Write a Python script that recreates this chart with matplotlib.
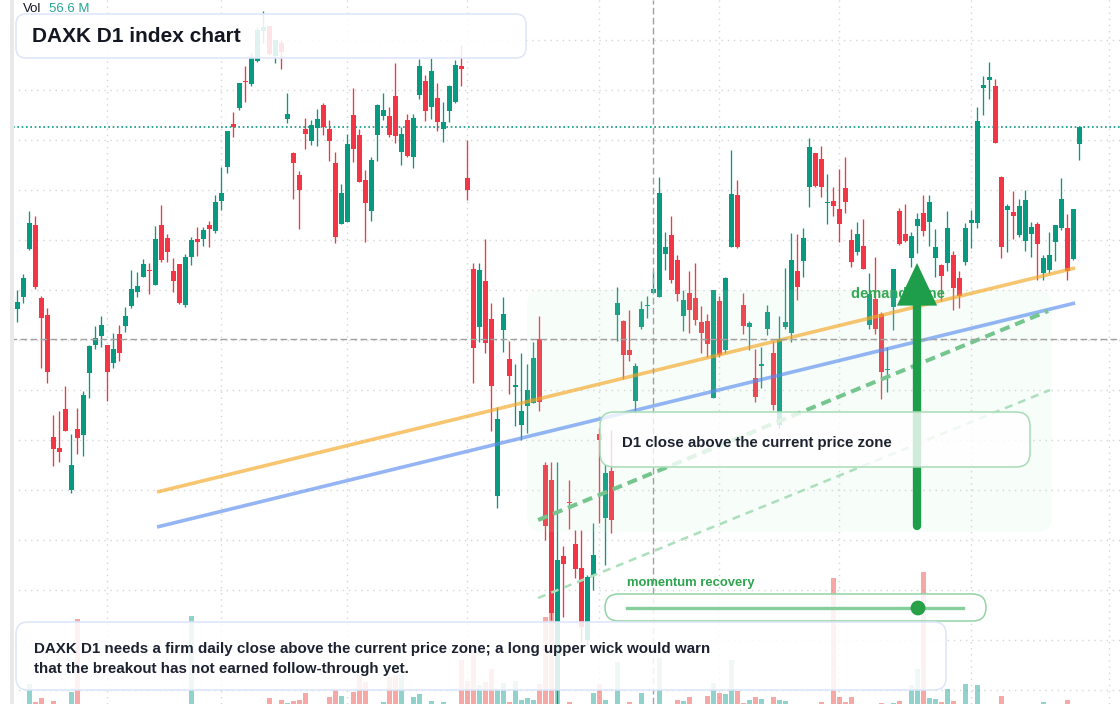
import numpy as np
import matplotlib
matplotlib.use("Agg")
import matplotlib.pyplot as plt
from matplotlib.patches import FancyBboxPatch, Rectangle, Polygon, Circle
from matplotlib.transforms import Affine2D
from matplotlib.colors import to_rgba

plt.rcParams['font.family'] = ['Liberation Sans', 'DejaVu Sans']

# ---- DAXK daily candles (index points), oldest first ----
opens = [24155, 24215, 24455, 24575, 24210, 24125, 23515, 23460, 23655, 23250,
         23555, 23525, 23835, 23975, 24020, 23975, 23885, 24030, 24070, 24170,
         24240, 24315, 24350, 24275, 24575, 24510, 24345, 24380, 24175, 24415,
         24505, 24505, 24575, 24545, 24695, 24865, 25080, 25160, 25295, 25280,
         25395, 25545, 25570, 25420, 25485, 25105, 24935, 24825, 25055, 24995,
         25060, 25175, 25055, 24885, 24580, 24590, 25125, 25025, 24800, 24645,
         25025, 25120, 25120, 25220, 24940, 25100, 24915, 25225, 25295, 25165,
         25210, 25055, 25145, 25190, 25370, 24810, 24355, 24065, 24295, 24105,
         23220, 24050, 23905, 23765, 23575, 23670, 23685, 24005, 23375, 23300,
         22245, 22920, 23190, 22980, 22860, 22500, 22825, 23530, 23110, 23345,
         24125, 24095, 23950, 23695, 24065, 24170, 24235, 24215, 24430, 24525,
         24400, 24120, 24235, 24210, 24090, 24095, 23710, 24195, 23950, 24465,
         24725, 24175, 24065, 23810, 23870, 24055, 23935, 23575, 24065, 24035,
         24345, 24395, 24765, 24935, 24905, 24685, 24695, 24655, 24760, 24500,
         24440, 24470, 24075, 24205, 24130, 23850, 24165, 24645, 24530, 24410,
         24570, 24635, 24590, 24410, 24375, 24385, 24425, 24310, 24390, 24585,
         24585, 25260, 25300, 25270, 24815, 24650, 24640, 24525, 24495, 24530,
         24580, 24335, 24350, 24490, 24560, 24560, 24405, 24980]
highs = [24250, 24330, 24645, 24620, 24220, 24160, 23625, 23645, 23770, 23530,
         23660, 23745, 23975, 24070, 24120, 23975, 24035, 24075, 24165, 24350,
         24340, 24405, 24385, 24570, 24675, 24530, 24410, 24380, 24430, 24515,
         24565, 24565, 24595, 24725, 24865, 25045, 25140, 25285, 25370, 25435,
         25565, 25645, 25570, 25500, 25500, 25235, 24940, 24845, 25110, 25100,
         25155, 25185, 25100, 24940, 24780, 25030, 25260, 25055, 24850, 24915,
         25180, 25235, 25165, 25385, 25065, 25130, 25130, 25405, 25325, 25410,
         25285, 25190, 25275, 25400, 25475, 25000, 24385, 24385, 24505, 24185,
         23665, 24215, 23995, 23880, 23935, 23880, 23990, 24120, 23390, 23390,
         23390, 22970, 23300, 23050, 23050, 22825, 23085, 23560, 23380, 23550,
         24265, 24100, 24150, 23885, 24195, 24220, 24340, 24815, 24540, 24620,
         24425, 24250, 24345, 24385, 24170, 24130, 24250, 24220, 24315, 24950,
         24800, 24235, 24095, 23955, 23965, 24175, 23995, 24120, 24360, 24535,
         24530, 24560, 25010, 24935, 24970, 24830, 24765, 24855, 24915, 24555,
         24590, 24605, 24335, 24415, 24140, 23965, 24355, 24660, 24680, 24540,
         24635, 24725, 24725, 24555, 24380, 24645, 24445, 24345, 24585, 24650,
         25165, 25320, 25390, 25305, 24820, 24680, 24745, 24705, 24750, 24590,
         24590, 24425, 24540, 24575, 24810, 24630, 24655, 25065]
lows = [24090, 24185, 24450, 24255, 23860, 23785, 23370, 23390, 23545, 23235,
        23430, 23420, 23710, 23955, 23965, 23695, 23860, 23895, 24040, 24160,
        24215, 24315, 24230, 24275, 24390, 24390, 24240, 24180, 24165, 24375,
        24420, 24470, 24465, 24535, 24650, 24835, 25015, 25150, 25190, 25270,
        25390, 25485, 25425, 25385, 25355, 25085, 24705, 24555, 24955, 24975,
        24970, 25025, 24895, 24485, 24580, 24590, 24890, 24790, 24490, 24595,
        24895, 25100, 25015, 24985, 24875, 24915, 24860, 25205, 25095, 25105,
        25045, 24990, 25090, 25185, 25270, 24700, 23785, 23990, 23935, 23545,
        23160, 23940, 23730, 23570, 23500, 23535, 23685, 23645, 23000, 22600,
        22170, 22615, 23055, 22810, 22490, 22475, 22750, 23085, 22875, 23035,
        23995, 23805, 23895, 23635, 24055, 24110, 24235, 24215, 24350, 24285,
        24195, 24045, 24035, 24075, 23935, 23915, 23710, 23915, 23935, 24465,
        24460, 24030, 23950, 23690, 23760, 24025, 23650, 23560, 24055, 23990,
        24200, 24315, 24665, 24765, 24715, 24580, 24620, 24490, 24635, 24365,
        24425, 24355, 24055, 24030, 23705, 23740, 24050, 24475, 24490, 24365,
        24435, 24520, 24470, 24315, 24195, 24345, 24150, 24160, 24375, 24460,
        24560, 25125, 25205, 24985, 24410, 24440, 24505, 24515, 24445, 24415,
        24300, 24300, 24335, 24395, 24550, 24300, 24400, 24900]
closes = [24190, 24310, 24585, 24265, 24110, 23840, 23455, 23440, 23545, 23375,
          23510, 23725, 23970, 24010, 24075, 23840, 23955, 23935, 24120, 24255,
          24270, 24380, 24345, 24505, 24400, 24440, 24295, 24185, 24415, 24500,
          24490, 24550, 24555, 24690, 24735, 25045, 25065, 25285, 25290, 25415,
          25550, 25565, 25430, 25500, 25440, 25130, 24885, 24750, 25030, 25075,
          25105, 25065, 24995, 24515, 24735, 24980, 24955, 24790, 24685, 24900,
          25175, 25150, 25025, 25020, 25030, 24920, 25110, 25370, 25145, 25345,
          25090, 25090, 25270, 25375, 25355, 24750, 23960, 24350, 23985, 23770,
          23605, 24130, 23820, 23775, 23645, 23750, 23910, 23690, 23070, 22635,
          22900, 22880, 23185, 22855, 22565, 22815, 22925, 23500, 23335, 23100,
          24185, 23925, 23925, 23870, 24155, 24175, 24255, 24735, 24465, 24300,
          24230, 24200, 24150, 24100, 24035, 23980, 24250, 23925, 24310, 24730,
          24465, 24070, 24085, 23715, 23880, 24140, 23675, 24005, 24090, 24400,
          24265, 24510, 24965, 24770, 24765, 24690, 24670, 24580, 24690, 24390,
          24530, 24355, 24230, 24055, 23840, 23855, 24355, 24480, 24495, 24520,
          24605, 24545, 24690, 24465, 24320, 24560, 24260, 24220, 24560, 24600,
          25095, 25275, 25315, 24985, 24465, 24670, 24620, 24670, 24700, 24565,
          24480, 24410, 24425, 24575, 24705, 24345, 24655, 25065]
# volume, millions
volumes = [44, 51, 72, 58.5, 61.5, 49, 59.3, 41, 53, 66,
           120.8, 47, 52, 38, 45, 50, 43, 36, 48, 55,
           40, 46, 39, 54, 50, 42, 47, 53, 49, 123,
           41, 37, 45, 52, 48, 55, 43, 50, 39, 46,
           54, 44, 61.5, 51, 60, 57.8, 59.3, 60, 65.3, 47,
           53, 49, 62.3, 68.3, 63, 55, 66, 78.8, 73.5, 52,
           48, 58.5, 77.3, 78.8, 78.8, 50, 62.3, 64.5, 54, 59.3,
           46, 58.5, 51, 55, 90, 74.3, 97.5, 71.3, 73.5, 83.3,
           67.5, 72.8, 58.5, 74.3, 60, 61.5, 60, 72, 122, 125.5,
           67.5, 54, 58.7, 52, 55, 50, 65.5, 72, 60, 53,
           88.5, 49, 58.7, 51, 65.5, 44, 56.6, 91.5, 47, 52,
           60, 59.5, 62.5, 55, 49, 63, 73, 65.5, 64.5, 90,
           67, 58, 60, 62.5, 60.8, 53, 62.5, 60, 59.3, 54,
           48, 51, 55, 46, 58.7, 42, 151.5, 62.5, 58.7, 62.5,
           50, 47, 53, 55, 58, 44, 58, 59.5, 49, 71.5,
           83.5, 156, 61.7, 60.8, 58.7, 68.5, 59.5, 54, 72, 51,
           71.3, 55, 48, 53, 63, 45, 50, 52, 55, 47,
           54, 58.5, 49, 52, 55, 60, 53, 46]

month_starts = [15, 34, 55, 75, 97, 117, 137, 159, 182]
price_grid = np.arange(22250, 25501, 250)
last_cross_bar = 106
cross_price = 24005

# drawn studies (bar index, price)
orange_x, orange_y = [23.3, 176.3], [23240, 24360]
blue_x, blue_y = [23.3, 176.3], [23065, 24185]
trend_x, trend_y = [86.8, 171.8], [23100, 24145]
lower_x, lower_y = [86.8, 172.1], [22710, 23750]
arrow_bar, arrow_from, arrow_to = 149.95, 23070, 24385

GREEN, RED = '#089981', '#f23645'
W, H = 1120, 704

fig = plt.figure(figsize=(W / 100, H / 100), dpi=100, facecolor='white')
xlim = (-17.3 / 6, (W - 17.3) / 6)
ylim = (22180, 25700)

ax_grid = fig.add_axes([0, 0, 1, 1])
ax_vol = fig.add_axes([0, 0, 1, 1])
ax = fig.add_axes([0, 0, 1, 1])
for a in (ax_grid, ax_vol, ax):
    a.set_facecolor('none')
    a.set_xlim(*xlim)
    a.axis('off')
ax_grid.set_ylim(*ylim)
ax.set_ylim(*ylim)
ax_vol.set_ylim(57, 585)

# pixel coordinates (y from top) for layout items
T = Affine2D().scale(1, -1).translate(0, H)

# grid
ax_grid.hlines(price_grid, *xlim, colors='#d6d6d6', lw=1.0, linestyles=(0, (1, 3.4)))
ax_grid.vlines(month_starts, *ylim, colors='#d6d6d6', lw=1.0, linestyles=(0, (1, 3.4)))

idx = np.arange(len(opens))
o, h, l, c = map(np.array, (opens, highs, lows, closes))
up = c >= o
cols = np.where(up, GREEN, RED)

# volume
ax_vol.bar(idx, volumes, width=0.78, color=np.where(up, '#26a69a', '#ef5350'),
           alpha=0.5, lw=0)

# last price line
ax.axhline(closes[-1], color=GREEN, lw=1.2, ls=(0, (1, 1.6)), zorder=1)

# candles
body_h = np.maximum(np.abs(c - o), 6)
mid = (o + c) / 2
ax.vlines(idx, l, h, colors=cols, lw=0.95, zorder=2)
ax.bar(idx, body_h, bottom=mid - body_h / 2, width=0.78, color=cols, lw=0, zorder=3)

# demand zone
ax.add_patch(FancyBboxPatch((527, 290), 525, 242, boxstyle='round,pad=0,rounding_size=16',
                            transform=T, fc=to_rgba('#bcedcd', 0.11), ec='none', zorder=4))

# trend lines
ax.plot(orange_x, orange_y, color='#f5a623', alpha=0.65, lw=2.6, zorder=5, solid_capstyle='butt')
ax.plot(blue_x, blue_y, color='#5b8def', alpha=0.65, lw=2.6, zorder=5, solid_capstyle='butt')
ax.plot(trend_x, trend_y, color='#74c58e', lw=2.9, dashes=(2.5, 1.5), zorder=5)
ax.plot(lower_x, lower_y, color='#acdfbb', lw=1.8, dashes=(3.2, 2.4), zorder=5)

# crosshair
ax.axhline(cross_price, color='#a0a0a0', lw=1.0, dashes=(4.8, 2.4), zorder=5.5)
ax.axvline(last_cross_bar, color='#a0a0a0', lw=1.0, dashes=(4.8, 2.4), zorder=5.5)

ax.text(851, 294, 'demand zone', transform=T, fontsize=10.5, fontweight='bold',
        color='#34a853', va='center', zorder=6)

# arrow
ax.plot([arrow_bar, arrow_bar], [arrow_from, 24180], color='#1e9e4a', lw=6,
        solid_capstyle='round', zorder=7)
ax.add_patch(Polygon([(146.6, 24172), (153.3, 24172), (arrow_bar, arrow_to)],
                     closed=True, color='#1e9e4a', lw=0, zorder=7))


def rbox(x0, y0, x1, y1, r, ec, fa, z):
    ax.add_patch(FancyBboxPatch((x0, y0), x1 - x0, y1 - y0,
                                boxstyle=f'round,pad=0,rounding_size={r}', transform=T,
                                fc=to_rgba('white', fa), ec=ec, lw=1.1, zorder=z))


rbox(600, 412, 1030, 467, 14, '#a8dcb6', 0.8, 8)
ax.text(622, 442.5, 'D1 close above the current price zone', transform=T, fontsize=10.8,
        fontweight='bold', color='#1c2230', va='center', zorder=9)

rbox(605, 594, 986, 621, 13.5, '#93d3a5', 0.85, 8)
ax.plot([627, 963], [608, 608], transform=T, color='#86cf9c', lw=2.4, zorder=9)
ax.add_patch(Circle((918, 608), 6.7, transform=T, color='#27a047', zorder=9.5))
ax.text(627, 583, 'momentum recovery', transform=T, fontsize=9.4, fontweight='bold',
        color='#2ea44f', va='center', zorder=9)

rbox(16, 622, 946, 690, 12, '#dbe6fa', 0.86, 10)
ax.text(34, 648.5, 'DAXK D1 needs a firm daily close above the current price zone; '
        'a long upper wick would warn', transform=T, fontsize=10.9, fontweight='bold',
        color='#1c2230', va='center', zorder=11)
ax.text(34, 668.5, 'that the breakout has not earned follow-through yet.', transform=T,
        fontsize=10.9, fontweight='bold', color='#1c2230', va='center', zorder=11)

rbox(16, 14, 526, 58, 10, '#dbe6fa', 0.88, 10)
ax.text(32, 37, 'DAXK D1 index chart', transform=T, fontsize=15, fontweight='bold',
        color='#131722', va='center', zorder=11)

ax.text(23, 9, 'Vol', transform=T, fontsize=9.5, color='#131722', va='center', zorder=11)
ax.text(49, 9, f'{volumes[last_cross_bar]} M', transform=T, fontsize=9.5, color='#26a69a',
        va='center', zorder=11)

# left edge strip
ax.add_patch(Rectangle((0, 0), 10, H, transform=T, fc='white', ec='none', zorder=12))
ax.add_patch(Rectangle((10, 0), 4, H, transform=T, fc='#e9e9eb', ec='none', zorder=12))

fig.savefig('out.png', dpi=100, facecolor='white')
